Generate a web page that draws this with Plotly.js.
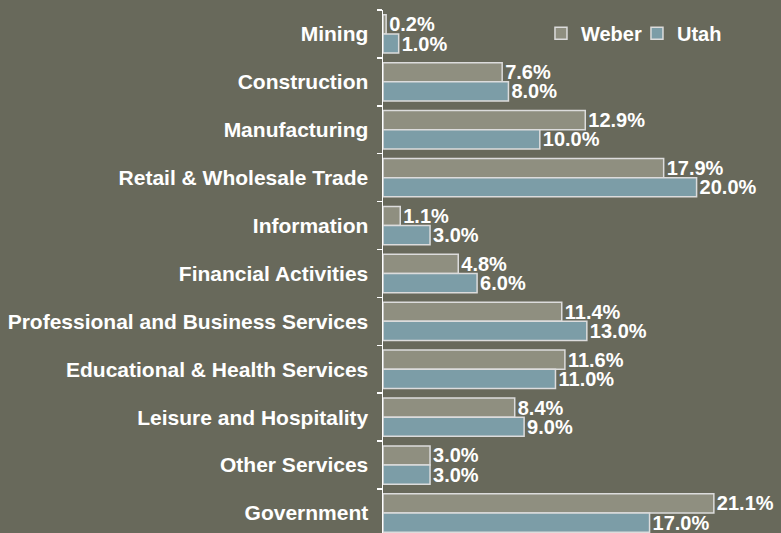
<!DOCTYPE html>
<html>
<head>
<meta charset="utf-8">
<script src="https://cdn.plot.ly/plotly-3.0.1.min.js"></script>
<style>html,body{margin:0;padding:0;background:#68695B;}</style>
</head>
<body>
<div id="chart" style="width:781px;height:533px;"></div>
<script>
const categories = ["Mining","Construction","Manufacturing","Retail & Wholesale Trade","Information","Financial Activities","Professional and Business Services","Educational & Health Services","Leisure and Hospitality","Other Services","Government"];
const weber = [0.2, 7.6, 12.9, 17.9, 1.1, 4.8, 11.4, 11.6, 8.4, 3.0, 21.1];
const utah = [1.0, 8.0, 10.0, 20.0, 3.0, 6.0, 13.0, 11.0, 9.0, 3.0, 17.0];
const seriesNames = ["Weber", "Utah"];

const font = {family: "Arial, Liberation Sans, sans-serif", size: 20, color: "#FFFFFF", weight: "bold"};
const tickFont = {family: "Arial, Liberation Sans, sans-serif", size: 21, color: "#FFFFFF", weight: "bold"};
const legendFont = {family: "Arial, Liberation Sans, sans-serif", size: 20, color: "#FFFFFF", weight: "bold"};

function trace(name, vals, color) {
  return {
    type: "bar", orientation: "h", name: name,
    y: categories, x: vals,
    text: vals.map(v => v.toFixed(1) + "%"),
    textposition: "outside", constraintext: "none", cliponaxis: false,
    textfont: font,
    marker: {color: color, line: {color: "#DCDCDC", width: 1.5}},
    hoverinfo: "skip"
  };
}

const data = [trace(seriesNames[0], weber, "#8F8F80"), trace(seriesNames[1], utah, "#7C9DA7")];

const layout = {
  width: 781, height: 533,
  paper_bgcolor: "#68695B", plot_bgcolor: "#68695B",
  margin: {l: 383, r: 6, t: 10, b: 0, pad: 0, autoexpand: false},
  barmode: "group", bargap: 0.2, bargroupgap: 0,
  font: font,
  showlegend: true,
  legend: {orientation: "h", x: 0.403, xanchor: "left", y: 0.993, yanchor: "top",
           entrywidth: 51, entrywidthmode: "pixels",
           bgcolor: "rgba(0,0,0,0)", font: legendFont, traceorder: "normal"},
  xaxis: {range: [0, 25], showticklabels: false, showgrid: false, zeroline: false, showline: false, fixedrange: true},
  yaxis: {type: "category", range: [10.418, -0.5], autorange: false,
          showline: true, linecolor: "#FFFFFF", linewidth: 1.5,
          ticks: "outside", tickson: "boundaries", ticklen: 5, tickcolor: "#FFFFFF", tickwidth: 1.5,
          ticklabelstandoff: 9,
          showgrid: false, zeroline: false, tickfont: tickFont}
};

Plotly.newPlot("chart", data, layout, {displayModeBar: false, staticPlot: true});
</script>
</body>
</html>
